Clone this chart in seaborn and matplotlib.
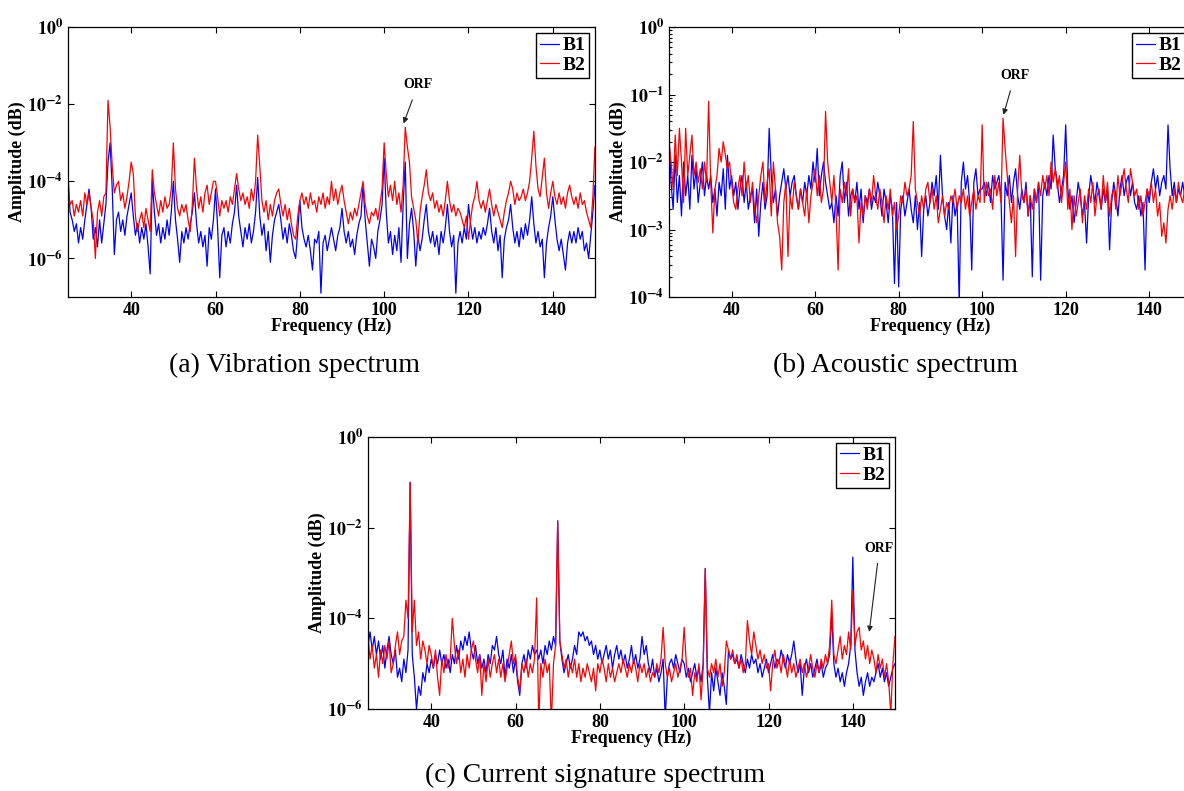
import matplotlib
matplotlib.use('Agg')

import numpy as np
import pandas as pd
import seaborn as sns
import matplotlib.pyplot as plt
from matplotlib.ticker import FixedLocator, FuncFormatter, NullLocator, LogLocator

# spectra are stored as log10(amplitude), one value every 0.5 Hz from 25 Hz
F_START = 25.0
F_STEP = 0.5
X_TICKS = [40, 60, 80, 100, 120, 140]

vib_b1 = [
    -3.8, -4.8, -5.0, -5.3, -5.1, -5.6, -5.2, -5.5, -5.0, -4.6, -4.2, -4.7, -5.5, -5.2, -5.7, -5.0, -5.6, -5.1, -4.6, -3.5,
    -3.0, -4.2, -5.9, -5.0, -4.8, -5.3, -5.0, -5.4, -4.9, -4.6, -4.3, -4.9, -5.4, -5.1, -5.6, -5.2, -5.5, -5.1, -5.7, -6.4,
    -4.0, -4.8, -5.4, -5.1, -5.6, -5.2, -5.5, -5.0, -5.4, -4.8, -4.0, -5.0, -5.5, -6.1, -5.3, -5.6, -5.2, -5.5, -5.1, -4.8,
    -4.3, -5.1, -5.6, -5.3, -5.7, -5.4, -6.2, -5.2, -5.5, -5.0, -4.2, -5.2, -6.5, -5.4, -5.2, -5.7, -5.3, -5.6, -5.1, -4.8,
    -4.1, -4.9, -5.3, -5.7, -5.2, -5.5, -5.1, -5.6, -5.3, -4.8, -3.9, -4.9, -5.4, -5.1, -5.8, -5.3, -6.1, -5.4, -5.0, -4.8,
    -4.6, -5.0, -5.5, -5.2, -5.6, -5.1, -5.4, -5.8, -6.0, -5.3, -4.5, -5.2, -5.5, -5.7, -5.4, -5.8, -6.3, -5.5, -5.6, -5.3,
    -6.9, -5.6, -5.4, -5.8, -5.5, -5.2, -5.5, -5.8, -5.4, -5.2, -4.7, -5.3, -5.6, -5.3, -5.7, -5.5, -5.9, -5.4, -5.1, -4.9,
    -4.1, -5.0, -5.6, -6.2, -5.5, -5.7, -6.0, -5.3, -5.0, -4.6, -3.4, -4.8, -5.6, -5.3, -5.9, -5.4, -5.8, -5.2, -6.1, -4.6,
    -3.5, -6.0, -5.1, -4.7, -5.3, -6.2, -5.4, -5.8, -5.5, -5.0, -4.6, -5.3, -5.6, -5.3, -5.7, -5.4, -5.9, -5.3, -5.6, -5.2,
    -4.6, -5.3, -5.7, -5.4, -6.9, -5.6, -5.3, -5.6, -5.2, -5.5, -4.6, -5.1, -5.5, -5.2, -5.6, -5.3, -5.5, -5.2, -5.4, -5.1,
    -4.7, -5.3, -5.6, -5.2, -5.8, -5.4, -6.5, -5.5, -5.2, -5.0, -4.6, -5.2, -5.6, -5.3, -5.7, -5.2, -5.5, -5.1, -5.4, -5.0,
    -4.4, -5.1, -5.6, -5.3, -5.7, -5.5, -6.5, -5.6, -5.2, -4.9, -4.4, -5.0, -5.5, -5.8, -5.5, -5.9, -6.3, -5.6, -5.3, -5.6,
    -5.3, -5.6, -5.2, -5.5, -5.3, -5.8, -5.6, -6.0, -5.4, -4.8, -4.1,
]
vib_b2 = [
    -4.2, -4.6, -4.5, -4.9, -4.6, -4.8, -4.5, -4.9, -4.3, -4.6, -4.3, -4.7, -5.0, -6.0, -4.8, -4.5, -4.9, -4.4, -4.3, -1.9,
    -2.6, -3.6, -4.3, -4.1, -4.0, -4.5, -4.3, -4.7, -4.4, -4.0, -3.5, -3.8, -4.9, -5.3, -5.0, -4.8, -5.2, -4.7, -5.0, -5.3,
    -3.7, -4.3, -4.6, -4.9, -4.5, -4.8, -4.4, -4.7, -4.6, -4.2, -3.0, -4.2, -4.7, -4.9, -4.6, -4.8, -4.6, -5.0, -5.3, -4.6,
    -3.4, -4.2, -4.7, -4.4, -4.8, -4.3, -4.1, -4.6, -4.3, -4.0, -4.0, -4.4, -4.9, -4.5, -4.7, -4.5, -4.8, -4.4, -4.6, -4.2,
    -3.8, -4.2, -4.5, -4.3, -4.6, -4.4, -4.7, -4.2, -4.5, -4.0, -2.8, -3.6, -4.5, -4.8, -4.5, -5.0, -4.6, -4.9, -4.5, -4.3,
    -4.2, -4.6, -4.9, -4.6, -5.0, -4.7, -5.1, -5.4, -5.5, -4.9, -4.5, -4.3, -4.6, -4.4, -4.7, -4.3, -4.6, -4.5, -4.8, -4.4,
    -4.6, -4.3, -4.7, -4.4, -4.6, -4.0, -4.5, -4.2, -4.6, -4.3, -4.1, -4.5, -4.8, -5.1, -4.8, -5.0, -4.7, -4.9, -4.6, -4.3,
    -4.0, -4.6, -4.9, -5.1, -4.8, -4.9, -4.7, -5.0, -4.6, -4.2, -3.0, -3.8, -4.4, -4.1, -4.5, -4.0, -4.6, -4.3, -4.8, -4.1,
    -2.6, -3.1, -3.5, -4.4, -4.7, -5.0, -5.6, -4.8, -4.4, -4.1, -3.7, -4.3, -4.5, -4.3, -4.7, -4.5, -4.8, -4.6, -4.9, -4.5,
    -4.0, -4.5, -4.8, -4.6, -4.9, -4.7, -4.8, -5.0, -5.2, -4.9, -5.5, -5.0, -4.6, -4.4, -4.0, -4.5, -4.7, -4.5, -4.8, -4.5,
    -4.2, -4.6, -4.9, -4.6, -4.8, -5.0, -5.2, -4.8, -4.5, -4.3, -4.0, -4.2, -4.6, -4.3, -4.5, -4.4, -4.2, -4.5, -4.3, -4.0,
    -3.4, -2.7, -3.6, -4.2, -4.4, -3.9, -3.4, -4.3, -4.7, -4.3, -4.0, -4.4, -4.6, -4.3, -4.6, -4.4, -4.7, -4.3, -4.1, -4.4,
    -4.6, -4.4, -4.7, -4.3, -4.6, -4.5, -4.8, -5.0, -5.2, -4.4, -3.1,
]

aco_b1 = [
    -1.6, -2.3, -2.7, -1.9, -2.6, -2.2, -2.8, -2.0, -2.5, -2.2, -2.7, -1.9, -2.4, -2.1, -2.6, -2.3, -2.0, -2.5, -2.2, -2.4,
    -2.2, -2.6, -2.4, -2.8, -2.3, -2.5, -2.1, -2.7, -1.9, -2.4, -2.2, -2.5, -2.3, -2.7, -2.4, -2.2, -2.6, -2.3, -2.7, -2.5,
    -2.4, -2.9, -2.4, -3.1, -2.6, -2.3, -2.7, -2.5, -1.5, -2.2, -2.6, -2.4, -2.8, -2.5, -2.3, -2.1, -2.4, -2.2, -2.5, -2.3,
    -2.2, -2.5, -2.7, -2.4, -2.6, -2.3, -2.5, -2.2, -2.4, -2.0, -2.3, -1.8, -2.5, -2.2, -2.0, -2.3, -2.5, -2.7, -2.6, -2.9,
    -2.5, -2.8, -2.2, -2.0, -2.6, -2.3, -2.8, -2.5, -2.4, -2.6, -2.3, -2.7, -2.4, -2.9, -2.5, -2.6, -2.4, -2.7, -2.5, -2.6,
    -2.3, -2.5, -2.8, -2.4, -2.6, -2.9, -2.5, -2.7, -3.8, -2.6, -3.85, -2.7, -2.5, -2.8, -2.6, -2.4, -2.7, -2.9, -2.5, -3.0,
    -2.6, -3.4, -2.7, -2.5, -2.8, -2.6, -2.3, -2.5, -2.2, -2.7, -1.9, -2.5, -2.8, -3.0, -2.6, -3.2, -2.5, -2.8, -2.6, -4.1,
    -2.3, -2.0, -2.4, -2.2, -2.6, -3.6, -2.3, -2.1, -2.5, -2.4, -2.4, -2.3, -2.5, -2.3, -2.6, -2.2, -2.4, -2.3, -2.2, -2.5,
    -3.75, -2.3, -2.5, -2.2, -2.6, -2.3, -2.1, -2.5, -2.7, -2.4, -2.6, -2.3, -2.8, -2.5, -3.7, -2.4, -2.6, -2.3, -3.75, -2.5,
    -2.3, -2.5, -2.2, -2.4, -1.6, -2.1, -2.3, -2.6, -2.4, -2.2, -1.45, -2.4, -2.7, -2.5, -2.9, -2.6, -2.3, -2.5, -2.8, -2.6,
    -3.2, -2.5, -2.2, -2.4, -2.6, -2.3, -2.5, -2.7, -2.4, -2.6, -2.4, -3.3, -2.6, -2.3, -2.5, -2.8, -2.4, -2.2, -2.5, -2.3,
    -2.2, -2.5, -2.3, -2.6, -2.7, -2.5, -2.8, -2.6, -3.6, -2.4, -2.6, -2.3, -2.1, -2.4, -2.2, -2.5, -2.3, -2.2, -2.4, -1.45,
    -2.1, -2.5, -2.3, -2.6, -2.4, -2.5, -2.3, -2.5, -2.2, -2.0, -1.9,
]
aco_b2 = [
    -1.7, -2.0, -2.4, -1.6, -2.2, -1.5, -2.0, -2.6, -1.5, -2.2, -1.9, -1.6, -2.2, -2.0, -2.3, -2.1, -2.4, -2.0, -2.3, -1.1,
    -2.3, -3.05, -2.4, -2.2, -1.8, -2.0, -1.7, -1.9, -2.1, -2.0, -2.3, -2.6, -2.7, -2.4, -2.2, -2.5, -2.0, -2.4, -2.2, -2.6,
    -2.3, -2.7, -2.9, -2.5, -2.2, -2.0, -2.6, -2.3, -2.1, -2.8, -2.0, -2.4, -2.9, -3.1, -3.6, -2.6, -2.3, -3.4, -2.5, -2.7,
    -2.3, -2.5, -2.7, -2.4, -2.6, -2.8, -2.4, -2.9, -2.5, -2.3, -2.1, -2.5, -2.2, -2.6, -2.4, -1.25, -2.0, -2.3, -2.6, -2.2,
    -2.7, -3.6, -2.4, -2.6, -2.3, -2.5, -2.1, -2.8, -2.4, -2.6, -2.5, -3.2, -2.6, -2.8, -2.5, -2.7, -2.4, -2.6, -2.2, -2.5,
    -2.7, -2.4, -2.6, -2.9, -2.5, -2.7, -2.4, -2.8, -2.6, -3.0, -2.8, -2.5, -2.6, -2.3, -2.5, -2.4, -2.2, -1.4, -2.4, -2.6,
    -2.8, -2.5, -2.7, -2.4, -2.3, -2.6, -2.4, -2.7, -2.5, -2.9, -2.7, -2.5, -2.8, -2.6, -2.7, -2.5, -2.6, -2.4, -2.7, -2.5,
    -2.6, -2.4, -2.7, -2.5, -2.8, -2.6, -2.4, -2.7, -2.5, -2.6, -1.45, -2.6, -2.3, -2.5, -2.4, -2.7, -2.2, -2.5, -2.3, -2.6,
    -1.35, -1.8, -2.2, -2.6, -2.9, -2.5, -3.4, -2.4, -1.9, -2.5, -2.6, -2.4, -2.8, -2.5, -2.7, -2.4, -2.6, -2.3, -2.5, -2.2,
    -2.4, -2.2, -2.5, -2.0, -2.3, -2.1, -2.4, -2.2, -2.6, -2.3, -2.0, -2.7, -2.4, -3.0, -2.5, -2.8, -2.6, -2.4, -2.9, -2.5,
    -2.7, -2.4, -2.6, -2.3, -2.8, -2.5, -2.4, -2.7, -2.2, -2.6, -2.3, -2.8, -2.5, -2.4, -2.7, -2.2, -2.5, -2.3, -2.1, -2.4,
    -2.6, -2.1, -2.3, -2.5, -2.4, -2.7, -2.5, -2.8, -2.6, -2.4, -2.5, -2.3, -2.6, -2.4, -2.8, -2.6, -3.1, -2.9, -3.2, -2.7,
    -2.5, -2.7, -2.4, -2.6, -2.3, -2.5, -2.6, -2.4, -2.5, -2.3, -2.5,
]

cur_b1 = [
    -4.6, -4.3, -4.7, -4.4, -4.8, -4.5, -4.9, -4.6, -5.1, -4.7, -4.4, -4.8, -5.0, -4.7, -5.3, -5.1, -5.4, -4.9, -5.2, -4.7,
    -1.0, -4.8, -5.3, -6.0, -5.5, -5.7, -5.2, -5.4, -5.0, -5.2, -4.9, -5.1, -4.8, -5.0, -4.7, -5.0, -4.8, -5.1, -4.9, -5.2,
    -4.8, -5.0, -4.6, -4.9, -4.5, -4.7, -4.4, -4.6, -4.3, -4.7, -4.9, -4.6, -5.0, -4.8, -5.1, -4.9, -5.2, -4.8, -5.0, -4.6,
    -4.7, -4.4, -4.8, -5.0, -4.7, -5.3, -4.9, -5.1, -4.8, -5.2, -4.9, -5.4, -5.7, -5.0, -4.8, -5.1, -4.7, -4.9, -4.6, -4.8,
    -4.7, -4.9, -4.7, -5.0, -4.6, -4.8, -4.5, -4.7, -4.4, -4.6, -1.85, -4.5, -4.9, -5.2, -5.0, -4.8, -5.1, -4.9, -4.6, -4.8,
    -4.3, -4.4, -4.3, -4.5, -4.4, -4.6, -4.5, -4.8, -4.6, -4.9, -4.7, -5.0, -4.8, -4.6, -4.9, -4.7, -5.1, -4.8, -4.6, -4.9,
    -4.7, -5.0, -4.8, -5.1, -4.9, -4.6, -5.0, -4.8, -5.1, -4.9, -4.4, -4.8, -4.6, -5.0, -5.2, -4.9, -5.3, -5.1, -5.4, -5.2,
    -4.9, -6.2, -5.3, -5.0, -4.9, -5.1, -4.8, -5.0, -5.2, -4.9, -5.0, -5.3, -5.1, -5.4, -5.2, -5.0, -5.3, -5.1, -5.4, -5.0,
    -2.9, -5.3, -6.1, -5.2, -5.6, -5.1, -5.4, -5.7, -5.2, -5.5, -5.9, -4.7, -4.9, -4.8, -5.0, -4.9, -5.1, -4.8, -5.0, -5.2,
    -4.9, -5.1, -4.8, -5.0, -4.9, -5.2, -5.0, -5.3, -5.1, -4.9, -5.2, -5.0, -4.8, -5.1, -4.9, -5.0, -4.7, -4.9, -5.1, -4.8,
    -5.0, -4.8, -4.5, -4.9, -5.2, -5.0, -5.7, -5.1, -4.9, -5.2, -5.0, -5.3, -5.1, -4.9, -5.2, -5.0, -5.3, -5.1, -5.0, -4.8,
    -3.9, -5.0, -5.3, -5.1, -5.4, -5.2, -5.5, -5.2, -5.0, -4.6, -2.65, -4.7, -5.2, -5.5, -5.3, -5.7, -5.4, -5.2, -5.5, -5.3,
    -5.4, -5.2, -5.0, -5.3, -5.1, -5.4, -5.2, -5.5, -5.3, -5.1, -5.0,
]
cur_b2 = [
    -4.4, -4.9, -4.6, -5.1, -4.8, -5.3, -4.7, -5.0, -4.6, -4.9, -4.5, -5.2, -5.0, -4.6, -4.3, -4.8, -4.5, -4.4, -3.6, -4.0,
    -1.0, -4.3, -3.6, -4.6, -4.3, -4.9, -4.5, -4.7, -5.0, -4.6, -4.8, -5.1, -4.7, -5.3, -5.7, -4.9, -5.2, -4.8, -5.1, -4.9,
    -4.0, -4.6, -5.0, -4.7, -5.2, -4.9, -5.3, -4.8, -5.1, -4.7, -4.5, -4.9, -5.2, -4.8, -5.7, -5.0, -5.4, -4.9, -5.3, -5.0,
    -4.8, -5.2, -4.9, -5.3, -5.0, -5.4, -5.1, -4.8, -4.5, -5.0, -4.8, -5.3, -5.6, -5.0, -5.2, -4.9, -5.3, -5.0, -5.2, -4.9,
    -3.55, -6.3, -5.0, -5.3, -4.9, -5.2, -5.0, -6.3, -5.0, -4.6, -1.85, -4.5, -4.8, -5.1, -4.9, -5.3, -5.0, -5.2, -4.9, -5.3,
    -5.0, -5.4, -5.1, -5.3, -5.0, -5.2, -5.4, -5.1, -5.6, -5.0, -5.2, -4.9, -5.1, -5.4, -5.0, -5.3, -5.1, -5.4, -5.2, -5.0,
    -5.2, -4.9, -5.1, -5.3, -5.0, -5.2, -4.9, -5.1, -5.4, -5.0, -5.2, -5.0, -5.3, -5.1, -5.4, -5.2, -5.3, -5.0, -5.2, -4.9,
    -4.2, -5.0, -5.3, -5.1, -5.4, -5.2, -5.0, -5.3, -5.1, -4.9, -4.2, -5.0, -5.3, -5.1, -5.7, -5.2, -5.4, -5.0, -5.8, -5.1,
    -2.9, -5.1, -5.3, -5.0, -5.2, -4.9, -5.3, -5.0, -5.5, -5.2, -4.5, -4.7, -4.9, -4.7, -5.0, -4.8, -5.1, -4.9, -5.2, -5.0,
    -4.05, -4.5, -4.8, -4.3, -4.6, -4.9, -4.7, -5.0, -4.8, -5.1, -5.0, -5.6, -5.0, -4.7, -5.1, -4.9, -5.2, -4.8, -5.0, -5.3,
    -4.9, -5.2, -5.0, -5.3, -5.1, -4.9, -5.2, -5.0, -5.3, -5.1, -4.8, -5.1, -5.3, -5.0, -5.2, -4.9, -5.1, -4.8, -5.0, -4.6,
    -3.6, -4.8, -5.0, -4.7, -4.4, -4.9, -4.6, -4.8, -4.3, -4.7, -3.4, -4.6, -4.3, -4.2, -4.7, -4.5, -4.9, -4.6, -5.0, -4.7,
    -4.9, -5.2, -4.8, -5.1, -4.9, -5.3, -5.0, -5.4, -6.1, -5.0, -4.4,
]

# ORF annotation: (arrow tip freq, tip log10 amp, text freq, text log10 amp)
orf_vib = (104.6, -2.5, 108.0, -1.5)
orf_aco = (105.1, -1.3, 107.8, -0.72)
orf_cur = (143.9, -4.3, 146.3, -2.45)

captions = ['(a) Vibration spectrum', '(b) Acoustic spectrum', '(c) Current signature spectrum']

COLORS = {'B1': '#0000ff', 'B2': '#ff0000'}
SERIF = ['Liberation Serif', 'DejaVu Serif']


def to_frame(b1, b2):
    f1 = F_START + F_STEP * np.arange(len(b1))
    f2 = F_START + F_STEP * np.arange(len(b2))
    return pd.DataFrame({
        'freq': np.concatenate([f1, f2]),
        'amp': 10.0 ** np.array(b1 + b2),
        'bearing': ['B1'] * len(b1) + ['B2'] * len(b2),
    })


def pow_label(v, pos):
    return r'$\mathbf{10^{%d}}$' % int(round(np.log10(v)))


def panel(ax, df, ylim, yticks, orf, minor=False):
    sns.lineplot(data=df, x='freq', y='amp', hue='bearing', palette=COLORS,
                 estimator=None, sort=False, lw=0.9, ax=ax)
    ax.set_yscale('log')
    ax.set_xlim(25, 150)
    ax.set_ylim(*ylim)
    ax.xaxis.set_major_locator(FixedLocator(X_TICKS))
    ax.yaxis.set_major_locator(FixedLocator(yticks))
    ax.yaxis.set_major_formatter(FuncFormatter(pow_label))
    if minor:
        ax.yaxis.set_minor_locator(LogLocator(base=10, subs=np.arange(2, 10)))
    else:
        ax.yaxis.set_minor_locator(NullLocator())
    ax.tick_params(axis='both', which='both', direction='in', top=True, right=True,
                   labelsize=13, width=0.8, colors='black')
    ax.tick_params(which='major', length=4)
    ax.tick_params(which='minor', length=2)
    for s in ax.spines.values():
        s.set_linewidth(0.9)
        s.set_color('black')
    ax.set_xlabel('Frequency (Hz)', fontsize=13, fontweight='bold', labelpad=-1)
    ax.set_ylabel('Amplitude (dB)', fontsize=13, fontweight='bold', labelpad=1)
    leg = ax.legend(loc='upper right', frameon=True, fancybox=False, edgecolor='black',
                    handlelength=1.0, handletextpad=0.15, borderpad=0.2, labelspacing=0.1,
                    borderaxespad=0.3, prop={'family': SERIF, 'weight': 'bold', 'size': 14})
    leg.get_frame().set_linewidth(1.0)
    leg.get_frame().set_alpha(1.0)
    ax.annotate('ORF', xy=(orf[0], 10 ** orf[1]), xytext=(orf[2], 10 ** orf[3]),
                ha='center', va='center', fontsize=10, fontweight='bold',
                arrowprops=dict(arrowstyle='-|>', color='#222222', lw=0.8,
                                shrinkA=4, shrinkB=0, mutation_scale=8))


sns.set_style('ticks')
plt.rcParams['font.family'] = SERIF
plt.rcParams['font.weight'] = 'bold'
plt.rcParams['mathtext.fontset'] = 'stix'
plt.rcParams['text.color'] = 'black'
plt.rcParams['axes.labelcolor'] = 'black'

fig = plt.figure(figsize=(11.84, 7.91), dpi=100)
ax_a = fig.add_axes([0.0574, 0.6245, 0.4451, 0.3413])
ax_b = fig.add_axes([0.5650, 0.6245, 0.4409, 0.3413])
ax_c = fig.add_axes([0.3108, 0.1037, 0.4451, 0.3439])

panel(ax_a, to_frame(vib_b1, vib_b2), (1e-7, 1), [1e-6, 1e-4, 1e-2, 1], orf_vib)
panel(ax_b, to_frame(aco_b1, aco_b2), (1e-4, 1), [1e-4, 1e-3, 1e-2, 1e-1, 1], orf_aco, minor=True)
panel(ax_c, to_frame(cur_b1, cur_b2), (1e-6, 1), [1e-6, 1e-4, 1e-2, 1], orf_cur)

fig.text(0.249, 1 - 365 / 791, captions[0], ha='center', va='center',
         fontsize=20, fontweight='normal', color='black')
fig.text(0.756, 1 - 365 / 791, captions[1], ha='center', va='center',
         fontsize=20, fontweight='normal', color='black')
fig.text(0.503, 1 - 775 / 791, captions[2], ha='center', va='center',
         fontsize=20, fontweight='normal', color='black')

fig.savefig('out.png', dpi=100)
plt.close('all')
